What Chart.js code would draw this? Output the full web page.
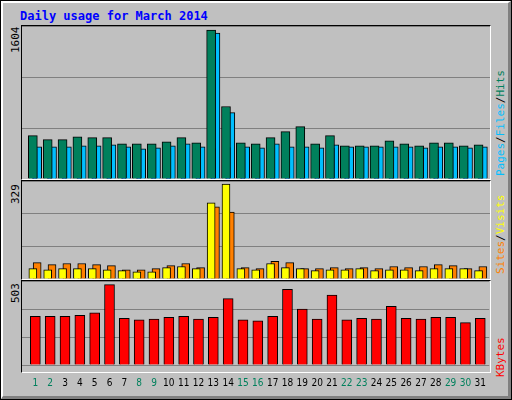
<!DOCTYPE html>
<html><head><meta charset="utf-8">
<script src="https://cdn.jsdelivr.net/npm/chart.js@4"></script>
<style>
body{margin:0;background:#fff}
#w{position:relative;width:512px;height:400px;background:#c0c0c0;box-sizing:border-box;border:1px solid #000;overflow:hidden}
#w:before{content:"";position:absolute;left:0;top:0;right:0;bottom:0;border-top:2px solid #fff;border-left:2px solid #fff;border-right:3px solid #808080;border-bottom:3px solid #808080}
.p{position:absolute;left:20px;width:470px;border:1px solid #000;border-right:1px solid #fff;border-bottom:1px solid #fff;box-sizing:border-box}
.c{position:absolute;left:21px;width:468px}
.t{position:absolute;font:bold 12px "DejaVu Sans Mono",monospace;color:#00f}
.r{position:absolute;font:11px "DejaVu Sans Mono",monospace;transform-origin:0 0;white-space:nowrap;transform:rotate(-90deg)}
</style></head><body>
<div id="w">
<div class="t" style="left:19px;top:8px">Daily usage for March 2014</div>
<div class="p" style="top:24px;height:155px"></div>
<div class="p" style="top:179px;height:100px"></div>
<div class="p" style="top:279px;height:93px"></div>
<div class="c" style="top:25px;height:153px"><canvas id="c1"></canvas></div>
<div class="c" style="top:180px;height:98px"><canvas id="c2"></canvas></div>
<div class="c" style="top:280px;height:112px"><canvas id="c3"></canvas></div>
<div class="r" style="left:8px;top:52px">1604</div>
<div class="r" style="left:8px;top:203px">329</div>
<div class="r" style="left:8px;top:302px">503</div>
<div class="r" style="left:493px;top:175px"><span style="color:#00bfff">Pages</span>/<span style="color:#00bfff">Files</span>/<span style="color:#00805c">Hits</span></div>
<div class="r" style="left:493px;top:273px"><span style="color:#ff8000">Sites</span>/<span style="color:#ffff00">Visits</span></div>
<div class="r" style="left:493px;top:376px"><span style="color:#ff0000">KBytes</span></div>
</div>
<script>
const days=[1,2,3,4,5,6,7,8,9,10,11,12,13,14,15,16,17,18,19,20,21,22,23,24,25,26,27,28,29,30,31];
const weekend=[1,2,8,9,15,16,22,23,29,30];
const hits=[454,412,412,443,433,433,369,369,369,390,433,380,1562,760,380,369,433,496,549,369,454,348,348,348,401,369,348,380,380,348,359];
const files=[338,338,338,348,348,359,338,317,327,348,369,338,1530,696,338,327,369,338,338,327,359,338,338,338,338,338,327,338,338,327,338];
const pages=[320,315,318,325,322,330,310,300,305,318,335,315,320,330,315,305,330,315,318,305,325,310,315,310,318,312,300,310,318,305,315];
const visits=[35,31,35,35,35,31,28,24,24,38,42,35,256,319,35,31,52,38,35,28,31,31,35,28,31,31,28,35,35,35,28];
const sites=[55,48,52,52,48,45,31,31,35,45,52,38,242,225,38,35,59,55,35,35,38,35,38,35,42,38,42,48,45,35,42];
const kbytes=[291,291,291,297,313,481,280,270,275,286,291,275,286,397,270,264,291,453,335,275,419,270,280,275,352,280,275,286,286,254,280];
const B='#000';
function xs(extra){return Object.assign({type:'linear',min:0.1,max:31.6,display:false,offset:false},extra||{});}
function ys(max){return {min:0,max:max,ticks:{display:false,stepSize:max/3,maxTicksLimit:4},grid:{color:'#808080',drawTicks:false,lineWidth:1},border:{display:false}};}
function ds(vals,dx,col,w,order){return {data:days.map((d,i)=>({x:d+dx,y:vals[i]})),backgroundColor:col,borderColor:B,borderWidth:1,barThickness:w,order:order,grouped:false,borderSkipped:'bottom'};}
const base={animation:false,responsive:true,maintainAspectRatio:false,plugins:{legend:{display:false},tooltip:{enabled:false}},layout:{padding:0}};
new Chart(c1,{type:'bar',data:{datasets:[ds(hits,-0.17,'#00805c',9,1),ds(pages,-0.05,'#0000ff',5,2),ds(files,0.12,'#00bfff',9,3)]},options:Object.assign({},base,{scales:{x:xs(),y:ys(1604)}})});
new Chart(c2,{type:'bar',data:{datasets:[ds(visits,-0.17,'#ffff00',8,1),ds(sites,0.12,'#ff8000',8,2)]},options:Object.assign({},base,{scales:{x:xs(),y:ys(329)}})});
new Chart(c3,{type:'bar',data:{datasets:[ds(kbytes,0,'#ff0000',10,1)]},options:Object.assign({},base,{scales:{x:xs({display:true,grid:{display:false},border:{display:false},afterBuildTicks:a=>{a.ticks=days.map(v=>({value:v}));},ticks:{autoSkip:false,maxRotation:0,padding:4,font:{family:'DejaVu Sans Condensed, DejaVu Sans',size:10},color:c=>weekend.includes(c.tick&&c.tick.value)?'#00805c':'#000',callback:v=>v}}),y:ys(503)}})});
</script></body></html>
